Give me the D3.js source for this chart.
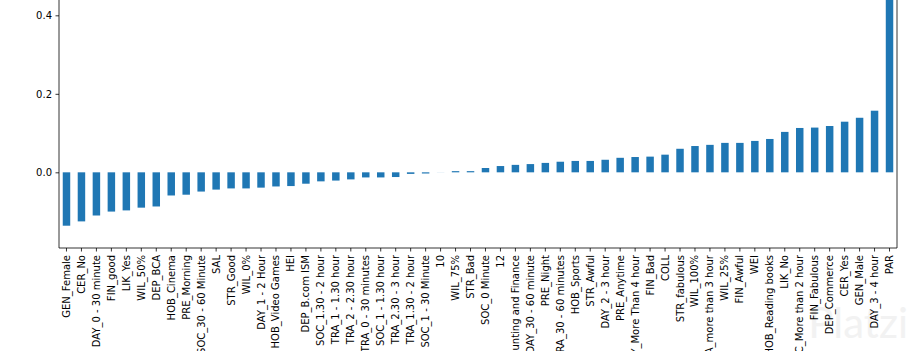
<!DOCTYPE html>
<html>
<head>
<meta charset="utf-8">
<script src="https://cdn.jsdelivr.net/npm/d3@7"></script>
<style>
  html, body { margin: 0; padding: 0; background: #fff; overflow: hidden; }
  svg { display: block; font-family: "DejaVu Sans", sans-serif; }
</style>
</head>
<body>
<svg id="chart" width="916" height="351"></svg>
<script>
const categories = [
  "GEN_Female", "CER_No", "DAY_0 - 30 minute", "FIN_good", "LIK_Yes", "WIL_50%", "DEP_BCA",
  "HOB_Cinema", "PRE_Morning", "SOC_30 - 60 Minute", "SAL", "STR_Good", "WIL_0%", "DAY_1 - 2 Hour",
  "HOB_Video Games", "HEI", "DEP_B.com ISM", "SOC_1.30 - 2 hour", "TRA_1 - 1.30 hour", "TRA_2 - 2.30 hour",
  "TRA_0 - 30 minutes", "SOC_1 - 1.30 hour", "TRA_2.30 - 3 hour", "TRA_1.30 - 2 hour", "SOC_1 - 30 Minute",
  "10", "WIL_75%", "STR_Bad", "SOC_0 Minute", "12", "DEP_B.com Accounting and Finance",
  "DAY_30 - 60 minute", "PRE_Night", "TRA_30 - 60 minutes", "HOB_Sports", "STR_Awful", "DAY_2 - 3 hour",
  "PRE_Anytime", "DAY_More Than 4 hour", "FIN_Bad", "COLL", "STR_fabulous", "WIL_100%",
  "TRA_more than 3 hour", "WIL_25%", "FIN_Awful", "WEI", "HOB_Reading books", "LIK_No",
  "SOC_More than 2 hour", "FIN_Fabulous", "DEP_Commerce", "CER_Yes", "GEN_Male", "DAY_3 - 4 hour", "PAR"
];
const values = [
  -0.136, -0.125, -0.110, -0.100, -0.097, -0.090, -0.087,
  -0.059, -0.057, -0.049, -0.044, -0.041, -0.041, -0.039,
  -0.036, -0.035, -0.029, -0.023, -0.021, -0.018,
  -0.013, -0.013, -0.012, -0.004, -0.003,
  0.0002, 0.003, 0.003, 0.011, 0.016, 0.019,
  0.021, 0.024, 0.027, 0.029, 0.029, 0.032,
  0.037, 0.039, 0.040, 0.045, 0.060, 0.067,
  0.070, 0.075, 0.075, 0.080, 0.085, 0.103,
  0.113, 0.114, 0.118, 0.129, 0.139, 0.157, 1.0
];
const yTicks = [-0.2, 0.0, 0.2, 0.4, 0.6, 0.8, 1.0];

(function () {
const svg = d3.select("#chart");
const plotLeft = 59, plotRight = 897, plotBottom = 248;
const yMin = d3.min(values), yMax = d3.max(values);
const pad = (yMax - yMin) * 0.05;
const y0 = yMin - pad, y1 = yMax + pad;
const pxPerUnit = 392.5;
const plotTop = plotBottom - (y1 - y0) * pxPerUnit;

// watermark
svg.append("text")
  .attr("x", 908).attr("y", 338)
  .attr("text-anchor", "end")
  .attr("font-family", "Lato, 'Open Sans', sans-serif")
  .attr("font-size", 42)
  .attr("fill", "#f2f2f2")
  .text("Platzi");

const x = d3.scaleBand().domain(categories).range([plotLeft, plotRight]).paddingInner(0.5).paddingOuter(0.25);
const y = d3.scaleLinear().domain([y0, y1]).range([plotBottom, plotTop]);

svg.append("g").selectAll("rect")
  .data(categories.map((c, i) => ({c, v: values[i]})))
  .join("rect")
  .attr("x", d => x(d.c))
  .attr("width", x.bandwidth())
  .attr("y", d => y(Math.max(0, d.v)))
  .attr("height", d => Math.abs(y(d.v) - y(0)))
  .attr("fill", "#1f77b4");

// only ticks inside the axis range and inside the visible window
const shownTicks = yTicks.filter(t => t >= y0 && t <= y1 && y(t) >= 6);
const yAxis = d3.axisLeft(y).tickValues(shownTicks).tickFormat(d3.format(".1f")).tickSize(3.5).tickPadding(3.5);
const gy = svg.append("g").attr("transform", `translate(${plotLeft},0)`).call(yAxis);
gy.select(".domain").remove();
gy.selectAll("text").attr("font-size", 10).attr("fill", "#000").attr("font-family", "DejaVu Sans");
gy.selectAll("line").attr("stroke", "#000").attr("stroke-width", 0.8);

const xAxis = d3.axisBottom(x).tickSize(3.5).tickPadding(3.5);
const gx = svg.append("g").attr("transform", `translate(0,${plotBottom})`).call(xAxis);
gx.select(".domain").remove();
gx.selectAll("line").attr("stroke", "#000").attr("stroke-width", 0.8);
gx.selectAll("text")
  .attr("font-size", 10).attr("fill", "#000").attr("font-family", "DejaVu Sans")
  .attr("transform", "rotate(-90)")
  .attr("text-anchor", "end")
  .attr("x", -7).attr("y", 0).attr("dy", "0.35em");

// spines
const sp = svg.append("g").attr("fill", "none").attr("stroke", "#000").attr("stroke-width", 0.8);
sp.append("line").attr("x1", plotLeft).attr("x2", plotLeft).attr("y1", plotTop).attr("y2", plotBottom);
sp.append("line").attr("x1", plotRight).attr("x2", plotRight).attr("y1", plotTop).attr("y2", plotBottom);
sp.append("line").attr("x1", plotLeft).attr("x2", plotRight).attr("y1", plotBottom).attr("y2", plotBottom);
sp.append("line").attr("x1", plotLeft).attr("x2", plotRight).attr("y1", plotTop).attr("y2", plotTop);
})();
</script>
</body>
</html>
